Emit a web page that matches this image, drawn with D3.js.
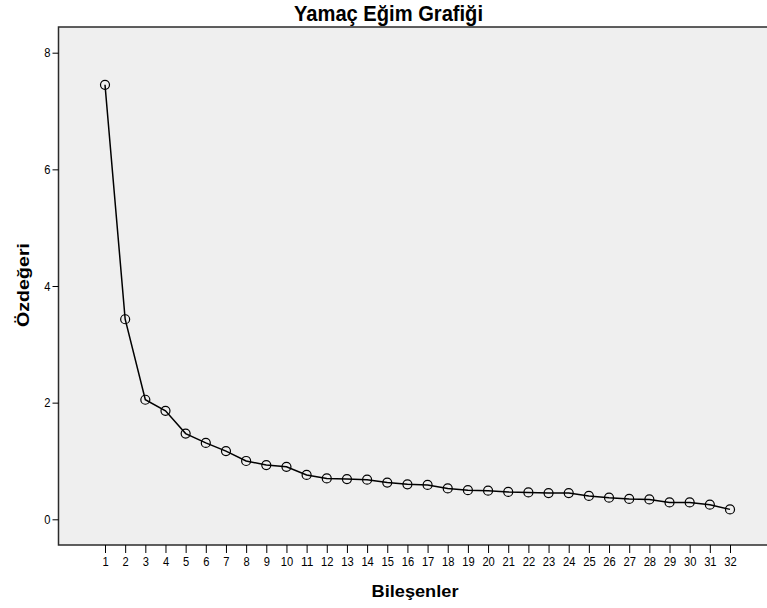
<!DOCTYPE html>
<html>
<head>
<meta charset="utf-8">
<script src="https://cdn.jsdelivr.net/npm/d3@7"></script>
<style>
    body { margin: 0; background: #fff; }
    svg { display: block; font-family: "Liberation Sans", Arial, sans-serif; }
</style>
</head>
<body>
<svg></svg>
<script>
// Component numbers and their eigenvalues
const components = d3.range(1, 33);
const eigenvalues = [7.45, 3.43, 2.05, 1.86, 1.47, 1.31, 1.17, 1.00, 0.93, 0.90,
    0.76, 0.70, 0.69, 0.68, 0.63, 0.60, 0.59, 0.53, 0.50, 0.49,
    0.47, 0.46, 0.45, 0.45, 0.40, 0.37, 0.35, 0.34, 0.29, 0.29,
    0.25, 0.17];
const yTicks = [0, 2, 4, 6, 8];

// Set standards
const width = 767;
const height = 608;
const plot = {left: 58.5, top: 27, right: 800, bottom: 545};

const svg = d3.select('svg')
    .attr('width', width)
    .attr('height', height);

// Scales
const x = d3.scalePoint()
    .domain(components)
    .range([105, 730]);

const y = d3.scaleLinear()
    .domain([0, 8])
    .range([519.3, 52.7]);

// Plot background
svg.append('rect')
    .attr('x', plot.left)
    .attr('y', plot.top)
    .attr('width', plot.right - plot.left)
    .attr('height', plot.bottom - plot.top)
    .attr('fill', '#efefef')
    .attr('stroke', '#2b2b2b')
    .attr('stroke-width', 1.5);

// Tick labels are a bit narrow in the original
function styleTicks(g) {
    g.select('.domain').remove();
    g.selectAll('line').attr('stroke', '#000');
    g.selectAll('text')
        .attr('font-size', 13)
        .attr('font-family', '"Liberation Sans", Arial, sans-serif')
        .attr('fill', '#000')
        .attr('textLength', d => String(d).length * 6.2)
        .attr('lengthAdjust', 'spacingAndGlyphs');
}

// Y axis
svg.append('g')
    .attr('transform', `translate(${plot.left},0)`)
    .call(d3.axisLeft(y).tickValues(yTicks).tickSize(6).tickPadding(2))
    .call(styleTicks);

// X axis
svg.append('g')
    .attr('transform', `translate(0,${plot.bottom})`)
    .call(d3.axisBottom(x).tickSize(8).tickPadding(4))
    .call(styleTicks);

// Line
const line = d3.line()
    .x((d, i) => x(components[i]))
    .y(d => y(d));

svg.append('path')
    .datum(eigenvalues)
    .attr('d', line)
    .attr('fill', 'none')
    .attr('stroke', '#000')
    .attr('stroke-width', 1.5);

// Markers
svg.selectAll('.marker')
    .data(eigenvalues)
    .enter().append('circle')
    .attr('class', 'marker')
    .attr('cx', (d, i) => x(components[i]))
    .attr('cy', d => y(d))
    .attr('r', 4.5)
    .attr('fill', 'none')
    .attr('stroke', '#000')
    .attr('stroke-width', 1.2);

// Titles
svg.append('text')
    .attr('x', 388.5)
    .attr('y', 21)
    .attr('text-anchor', 'middle')
    .attr('font-size', 22)
    .attr('font-weight', 'bold')
    .attr('textLength', 189)
    .attr('lengthAdjust', 'spacingAndGlyphs')
    .text('Yamaç Eğim Grafiği');

svg.append('text')
    .attr('x', 415)
    .attr('y', 597)
    .attr('text-anchor', 'middle')
    .attr('font-size', 17)
    .attr('font-weight', 'bold')
    .attr('textLength', 87)
    .attr('lengthAdjust', 'spacingAndGlyphs')
    .text('Bileşenler');

svg.append('text')
    .attr('transform', 'translate(29,285) rotate(-90)')
    .attr('text-anchor', 'middle')
    .attr('font-size', 17)
    .attr('font-weight', 'bold')
    .attr('textLength', 84)
    .attr('lengthAdjust', 'spacingAndGlyphs')
    .text('Özdeğeri');
</script>
</body>
</html>
